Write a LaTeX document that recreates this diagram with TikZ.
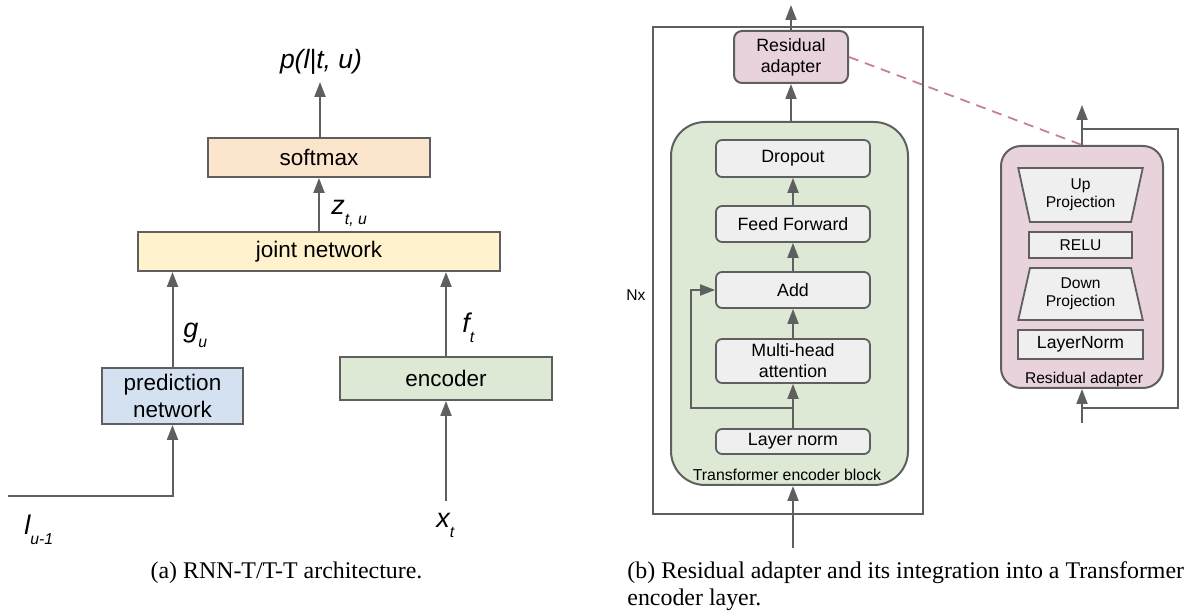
\documentclass[tikz,border=0pt]{standalone}
\usepackage{fontspec}
\setmainfont{Liberation Sans}
\newfontfamily\capfont{Liberation Serif}
\usetikzlibrary{arrows.meta,shapes.geometric}

\definecolor{lineg}{HTML}{5F5F5F}
\definecolor{softc}{HTML}{FCE5CD}
\definecolor{jointc}{HTML}{FFF2CC}
\definecolor{predc}{HTML}{D3E1F1}
\definecolor{encc}{HTML}{DDE9D5}
\definecolor{adapc}{HTML}{E8D2DC}
\definecolor{boxc}{HTML}{EFEFEF}
\definecolor{dashc}{HTML}{C47FA3}

\newcommand{\varlab}[2]{{\itshape\fontsize{13.5}{15}\selectfont #1\raisebox{-0.7ex}{\fontsize{7.9}{9}\selectfont #2}}}

\tikzset{
  flow/.style={draw=lineg, line width=1pt, -{Triangle[width=5.5pt,length=7.5pt]}},
  wire/.style={draw=lineg, line width=1pt},
  blk/.style={draw=lineg, line width=1pt, inner sep=0pt, align=center, font=\fontsize{11.25}{13.5}\selectfont},
  inbox/.style={draw=lineg, line width=0.9pt, fill=boxc, rounded corners=3pt, inner sep=0pt, align=center, minimum width=77pt, font=\fontsize{8.9}{10.5}\selectfont},
  adbox/.style={draw=lineg, line width=0.9pt, fill=boxc, inner sep=0pt, align=center, font=\fontsize{7.8}{9.2}\selectfont},
  trap/.style={adbox, trapezium, trapezium stretches=true, trapezium left angle=76, trapezium right angle=76, minimum width=62.5pt},
  small/.style={inner sep=0pt, font=\fontsize{7.8}{9}\selectfont},
  varl/.style={inner sep=0pt, anchor=base west},
  captxt/.style={inner sep=0pt, font=\capfont\fontsize{11.95}{13.5}\selectfont}
}

\begin{document}
\begin{tikzpicture}[x=0.5pt,y=-0.5pt]
\useasboundingbox (0,0) rectangle (1199,613);

% (a) RNN-T
\node[blk, fill=softc, minimum width=111pt, minimum height=19.5pt] (softmax) at (319,157.5) {softmax};
\node[blk, fill=jointc, minimum width=181pt, minimum height=19.5pt] (joint) at (319,251.5) {joint network};
\node[blk, fill=predc, minimum width=70.5pt, minimum height=28pt] (pred) at (172.5,396) {prediction\\network};
\node[blk, fill=encc, minimum width=106pt, minimum height=21.5pt] (enc) at (446,378.5) {encoder};

\node[inner sep=0pt, font=\itshape\fontsize{13.25}{15}\selectfont] (prob) at (321,62) {p(l|t, u)};
\node[varl] (zlab) at (331,215) {\varlab{z}{t, u}};
\node[varl] (glab) at (183,338) {\varlab{g}{u}};
\node[varl] (flab) at (462,333) {\varlab{f}{t}};
\node[varl] (llab) at (24,535) {\varlab{l}{u-1}};
\node[varl] (xlab) at (436,528) {\varlab{x}{t}};

\coordinate (probin) at (320,82);
\coordinate (lstart) at (8,496);
\coordinate (xstart) at (446,501);

\draw[flow] (softmax.north -| probin) -- (probin);
\draw[flow] (joint.north -| softmax) -- (softmax);
\draw[flow] (pred) -- (joint.south -| pred);
\draw[flow] (enc.north) -- (joint.south -| enc);
\draw[flow] (lstart) -| (pred);
\draw[flow] (xstart) -- (enc);

\node[captxt] (capa) at (286.5,573) {(a) RNN-T/T-T architecture.};

% (b) layer with adapter
\node[draw=lineg, line width=1pt, minimum width=135pt, minimum height=243.5pt] (layer) at (788,270.5) {};
\node[small] (nx) at (636,295) {Nx};
\node[draw=lineg, line width=1pt, fill=encc, rounded corners=17pt, minimum width=118.5pt, minimum height=181.5pt] (encblk) at (789.5,303.5) {};
\node[small, font=\fontsize{7.9}{9}\selectfont] (enclab) at (787,475) {Transformer encoder block};
\node[blk, fill=adapc, rounded corners=4pt, minimum width=57pt, minimum height=26pt, font=\fontsize{8.9}{10.5}\selectfont] (ra) at (791,57) {Residual\\adapter};

\node[inbox, minimum height=18.5pt] (drop) at (793,158.5) {Dropout};
\node[inbox, minimum height=18pt] (ff) at (793,224) {Feed Forward};
\node[inbox, minimum height=18pt] (add) at (793,290) {Add};
\node[inbox, minimum height=22pt] (mha) at (793,361) {Multi-head\\attention};
\node[inbox, minimum height=12.5pt] (ln) at (793,441.5) {Layer norm};

\coordinate (layerout) at (791,5);
\coordinate (layerin) at (793,548);
\coordinate (split) at (793,408);
\coordinate (skip) at (691,408);

\draw[flow] (ra) -- (layerout);
\draw[flow] (encblk.north -| ra) -- (ra);
\draw[flow] (ff) -- (drop);
\draw[flow] (add) -- (ff);
\draw[flow] (mha) -- (add);
\draw[flow] (ln) -- (mha);
\draw[flow] (split) -- (skip) |- (add.west);
\draw[flow] (layerin) -- (layerin |- encblk.south);

% adapter detail
\node[draw=lineg, line width=1pt, fill=adapc, rounded corners=10pt, minimum width=81pt, minimum height=121pt] (adp) at (1082,267) {};
\node[trap, shape border rotate=180, minimum height=27pt] (upproj) at (1080.5,195) {Up\\Projection};
\node[adbox, minimum width=51.5pt, minimum height=13pt] (relu) at (1080.5,245) {RELU};
\node[trap, minimum height=26pt] (downproj) at (1080.5,294) {Down\\Projection};
\node[adbox, minimum width=62.5pt, minimum height=14.5pt, font=\fontsize{8.8}{10}\selectfont] (lnorm) at (1080.5,344.5) {LayerNorm};
\node[small] (adplab) at (1084,379) {Residual adapter};

\coordinate (adpout) at (1082,105);
\coordinate (adpin) at (1082,423);
\coordinate (res1) at (1082,408);
\coordinate (res2) at (1178,408);
\coordinate (res3) at (1178,129);
\coordinate (res4) at (1082,129);

\draw[flow] (adp.north) -- (adpout);
\draw[flow] (adpin) -- (adp.south);
\draw[wire] (res1) -- (res2) -- (res3) -- (res4);
\draw[dashc, line width=0.9pt, dash pattern=on 5pt off 3.5pt] (ra.east) -- (adp.north);

\node[captxt, anchor=west, align=left] (capb) at (627,586.5) {(b) Residual adapter and its integration into a Transformer\\encoder layer.};

\end{tikzpicture}
\end{document}
